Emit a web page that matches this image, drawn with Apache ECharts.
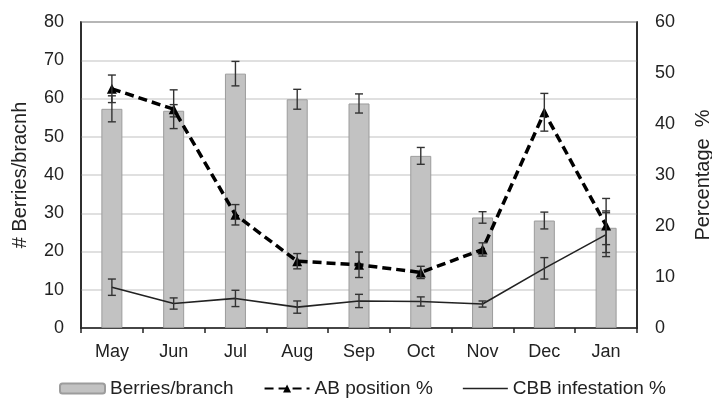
<!DOCTYPE html>
<html>
<head>
<meta charset="utf-8">
<script src="https://cdn.jsdelivr.net/npm/echarts@6/dist/echarts.min.js"></script>
<style>
  html, body { margin: 0; padding: 0; background: #fff; }
  #chart { width: 712px; height: 399px; }
</style>
</head>
<body>
<div id="chart"></div>
<script>
// Monthly sampling: berries per branch (left axis) and two percentages (right axis)
const months = ['May', 'Jun', 'Jul', 'Aug', 'Sep', 'Oct', 'Nov', 'Dec', 'Jan'];
const berries = [57.3, 56.8, 66.5, 59.8, 58.7, 45.0, 28.9, 28.1, 26.2];
const berriesErr = [3.4, 1.6, 3.2, 2.6, 2.5, 2.2, 1.5, 2.2, 4.4];
const abPosition = [46.9, 42.9, 22.2, 13.1, 12.4, 10.9, 15.4, 42.3, 20.1];
const abErr = [2.7, 3.8, 2.0, 1.5, 2.5, 1.2, 1.3, 3.7, 5.3];
const cbbInfestation = [8.0, 4.8, 5.8, 4.1, 5.3, 5.2, 4.7, 11.7, 18.3];
const cbbErr = [1.6, 1.1, 1.6, 1.2, 1.3, 0.9, 0.6, 2.1, 4.3];
const leftTicks = { min: 0, max: 80, interval: 10 };
const rightTicks = { min: 0, max: 60, interval: 10 };

const FONT = 'Liberation Sans, Arial, sans-serif';
const TEXT = '#222';

// Vertical error bar with caps, positioned through the axis scales
function errorBars(name, means, errs, axisIndex, z) {
  return {
    name: name,
    type: 'custom',
    yAxisIndex: axisIndex,
    silent: true,
    z: z,
    data: means.map((m, i) => [i, m - errs[i], m + errs[i]]),
    encode: { x: 0, y: [1, 2] },
    renderItem: function (params, api) {
      const x = api.value(0);
      const lo = api.coord([x, api.value(1)]);
      const hi = api.coord([x, api.value(2)]);
      const hw = 4;
      const style = { stroke: '#333', lineWidth: 1.4 };
      return {
        type: 'group',
        children: [
          { type: 'line', shape: { x1: lo[0], y1: lo[1], x2: hi[0], y2: hi[1] }, style: style },
          { type: 'line', shape: { x1: hi[0] - hw, y1: hi[1], x2: hi[0] + hw, y2: hi[1] }, style: style },
          { type: 'line', shape: { x1: lo[0] - hw, y1: lo[1], x2: lo[0] + hw, y2: lo[1] }, style: style }
        ]
      };
    }
  };
}

const chart = echarts.init(document.getElementById('chart'), null, { renderer: 'canvas' });
chart.setOption({
  animation: false,
  backgroundColor: '#fff',
  textStyle: { fontFamily: FONT, color: TEXT },
  grid: {
    left: 81, right: 75, top: 22, bottom: 71,
    outerBoundsMode: 'none',
    containLabel: false,
    show: true, borderColor: '#222', borderWidth: 1.5, backgroundColor: '#fff'
  },
  legend: {
    left: 59,
    top: 379,
    padding: 0,
    itemGap: 30,
    itemWidth: 45,
    itemHeight: 10,
    textStyle: { fontFamily: FONT, fontSize: 19, color: TEXT },
    data: [
      'Berries/branch',
      'AB position %',
      { name: 'CBB infestation %', icon: 'path://M0,0 H45 V1.6 H0 Z' }
    ]
  },
  xAxis: {
    type: 'category',
    data: months,
    axisLine: { lineStyle: { color: '#222', width: 1.5 } },
    axisTick: { show: true, length: 5, lineStyle: { color: '#222', width: 1.5 } },
    axisLabel: { fontFamily: FONT, fontSize: 18, color: TEXT, margin: 15 }
  },
  yAxis: [
    {
      type: 'value',
      min: leftTicks.min, max: leftTicks.max, interval: leftTicks.interval,
      name: '# Berries/bracnh',
      nameLocation: 'middle',
      nameRotate: 90,
      nameGap: 51,
      nameTextStyle: { fontFamily: FONT, fontSize: 20, color: TEXT },
      axisLine: { show: true, lineStyle: { color: '#222', width: 1.5 } },
      axisTick: { show: false },
      axisLabel: { fontFamily: FONT, fontSize: 18, color: TEXT, margin: 17 },
      splitLine: { lineStyle: { color: '#d6d6d6', width: 1.5 } }
    },
    {
      type: 'value',
      position: 'right',
      min: rightTicks.min, max: rightTicks.max, interval: rightTicks.interval,
      name: 'Percentage  %',
      nameLocation: 'middle',
      nameRotate: 90,
      nameGap: 56,
      nameTextStyle: { fontFamily: FONT, fontSize: 20, color: TEXT },
      axisLine: { show: true, lineStyle: { color: '#222', width: 1.5 } },
      axisTick: { show: false },
      axisLabel: { fontFamily: FONT, fontSize: 18, color: TEXT, margin: 18 },
      splitLine: { show: false }
    }
  ],
  series: [
    {
      name: 'Berries/branch',
      type: 'bar',
      yAxisIndex: 0,
      barWidth: 21,
      data: berries,
      itemStyle: { color: '#c2c2c2', borderColor: '#9c9c9c', borderWidth: 1 },
      z: 2
    },
    errorBars('berriesErr', berries, berriesErr, 0, 3),
    {
      name: 'CBB infestation %',
      type: 'line',
      yAxisIndex: 1,
      data: cbbInfestation,
      symbol: 'none',
      lineStyle: { color: '#222', width: 1.6 },
      itemStyle: { color: '#222' },
      z: 4
    },
    errorBars('cbbErr', cbbInfestation, cbbErr, 1, 5),
    {
      name: 'AB position %',
      type: 'line',
      yAxisIndex: 1,
      data: abPosition,
      symbol: 'triangle',
      symbolSize: 10,
      lineStyle: { color: '#000', width: 3.5, type: [9, 5] },
      itemStyle: { color: '#000' },
      z: 6
    },
    errorBars('abErr', abPosition, abErr, 1, 7)
  ]
});
</script>
</body>
</html>
